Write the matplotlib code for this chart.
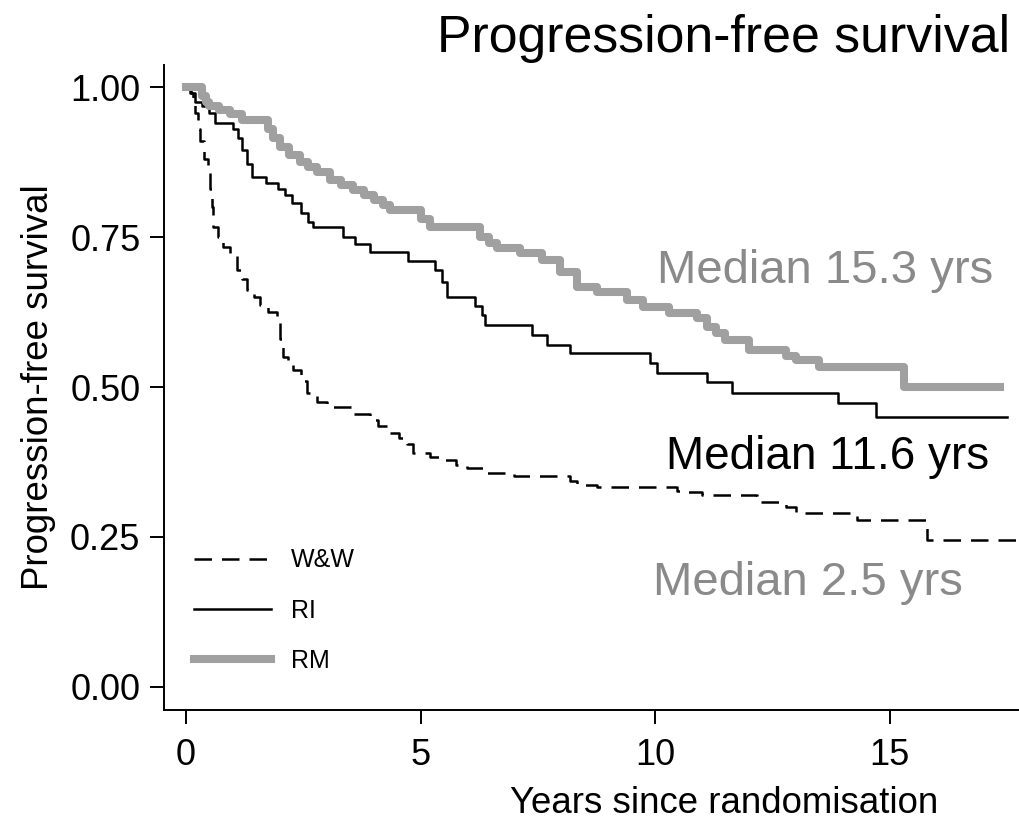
import matplotlib
matplotlib.use("Agg")
import matplotlib.pyplot as plt

plt.rcParams['font.family'] = ['Liberation Sans', 'DejaVu Sans']

# Kaplan-Meier step points (years, survival)
ww_t = [0, 0.08, 0.15, 0.19, 0.25, 0.3, 0.38, 0.47, 0.52, 0.55, 0.58, 0.68, 0.79, 0.94,
        1.09, 1.2, 1.3, 1.45, 1.58, 1.75, 1.94, 2.0, 2.07, 2.18, 2.28, 2.45, 2.58, 2.8,
        3.0, 3.56, 3.92, 4.1, 4.35, 4.55, 4.71, 4.84, 5.2, 5.48, 5.75, 5.99, 6.33, 7.0,
        8.19, 8.34, 8.76, 10.47, 10.6, 11.0, 12.17, 12.8, 13.0, 14.3, 15.8, 17.8]
ww_s = [1.0, 0.99, 0.97, 0.957, 0.93, 0.91, 0.88, 0.857, 0.83, 0.80, 0.767, 0.75, 0.733, 0.72,
        0.695, 0.68, 0.662, 0.65, 0.637, 0.625, 0.607, 0.58, 0.55, 0.54, 0.528, 0.51, 0.49, 0.475,
        0.467, 0.455, 0.445, 0.435, 0.423, 0.415, 0.405, 0.39, 0.383, 0.378, 0.37, 0.365, 0.357, 0.352,
        0.343, 0.337, 0.333, 0.327, 0.325, 0.32, 0.308, 0.30, 0.29, 0.278, 0.245, 0.245]

ri_t = [0, 0.1, 0.19, 0.35, 0.5, 0.62, 1.0, 1.1, 1.2, 1.3, 1.4, 1.7, 1.96, 2.1, 2.26, 2.45,
        2.6, 2.7, 3.35, 3.6, 3.92, 4.73, 5.3, 5.45, 5.57, 6.16, 6.3, 6.38, 7.38, 7.7, 8.19,
        9.9, 10.04, 11.1, 11.64, 13.9, 14.7, 17.5]
ri_s = [1.0, 0.99, 0.975, 0.968, 0.957, 0.94, 0.93, 0.915, 0.895, 0.872, 0.85, 0.84, 0.83, 0.82,
        0.807, 0.79, 0.775, 0.767, 0.75, 0.738, 0.725, 0.71, 0.695, 0.675, 0.65, 0.635, 0.62, 0.603,
        0.587, 0.57, 0.557, 0.54, 0.523, 0.508, 0.49, 0.473, 0.45, 0.45]

rm_t = [0, 0.34, 0.42, 0.5, 0.7, 0.94, 1.2, 1.75, 1.85, 2.0, 2.2, 2.43, 2.6, 2.8, 3.07, 3.3,
        3.56, 3.8, 4.0, 4.2, 4.35, 5.0, 5.2, 6.27, 6.45, 6.63, 7.12, 7.6, 7.97, 8.34, 8.76,
        9.4, 9.74, 10.3, 10.9, 11.1, 11.3, 11.5, 12.0, 12.8, 13.0, 13.5, 15.3, 17.36]
rm_s = [1.0, 0.985, 0.975, 0.968, 0.962, 0.955, 0.945, 0.93, 0.915, 0.9, 0.887, 0.875, 0.866,
        0.858, 0.845, 0.836, 0.828, 0.82, 0.812, 0.803, 0.795, 0.78, 0.767, 0.75, 0.74, 0.732,
        0.723, 0.712, 0.692, 0.667, 0.658, 0.645, 0.633, 0.623, 0.615, 0.6, 0.59, 0.578, 0.562,
        0.552, 0.545, 0.533, 0.5, 0.5]

medians = ["Median 15.3 yrs", "Median 11.6 yrs", "Median 2.5 yrs"]
median_pos = [(13.62, 0.673), (13.67, 0.363), (13.26, 0.153)]
median_colors = ['#8a8a8a', 'black', '#8a8a8a']
median_sizes = [34, 33, 34]

fig = plt.figure(figsize=(10.2, 8.22), dpi=100)
ax = fig.add_axes([0.1608, 0.1363, 1 - 0.1608, 0.9209 - 0.1363])

ax.step(ww_t, ww_s, where='post', color='black', lw=1.8, dashes=(7, 4), label='W&W')
ax.step(ri_t, ri_s, where='post', color='black', lw=1.8, label='RI')
ax.step(rm_t, rm_s, where='post', color='#a0a0a0', lw=5.8, label='RM')

for txt, (x, y), c, fs in zip(medians, median_pos, median_colors, median_sizes):
    ax.text(x, y, txt, ha='center', va='baseline', fontsize=fs, color=c)

ax.set_xlim(-0.469, 17.78)
ax.set_ylim(-0.0383, 1.0367)
ax.set_xticks([0, 5, 10, 15])
ax.set_yticks([0, 0.25, 0.5, 0.75, 1.0])
ax.set_yticklabels([f"{v:.2f}" for v in [0, 0.25, 0.5, 0.75, 1.0]])

for side in ['top', 'right']:
    ax.spines[side].set_visible(False)
for side in ['left', 'bottom']:
    ax.spines[side].set_linewidth(1.4)
ax.tick_params(labelsize=26, length=10, width=1.4, pad=7)
ax.tick_params(axis='x', pad=10)

ax.set_ylabel("Progression-free survival", fontsize=26.4, labelpad=10)
ax.set_xlabel("Years since randomisation", fontsize=26.4)
ax.xaxis.set_label_coords(0.654, -0.118)

ax.legend(loc='upper left', bbox_to_anchor=(0.02, 0.27), frameon=False, fontsize=18,
          handlelength=3.1, handletextpad=0.8, labelspacing=1.05, borderpad=0)

fig.text(1010 / 1020, 1 - 52 / 822, "Progression-free survival", ha='right', va='baseline',
         fontsize=37.4)

fig.savefig("out.png", dpi=100)
